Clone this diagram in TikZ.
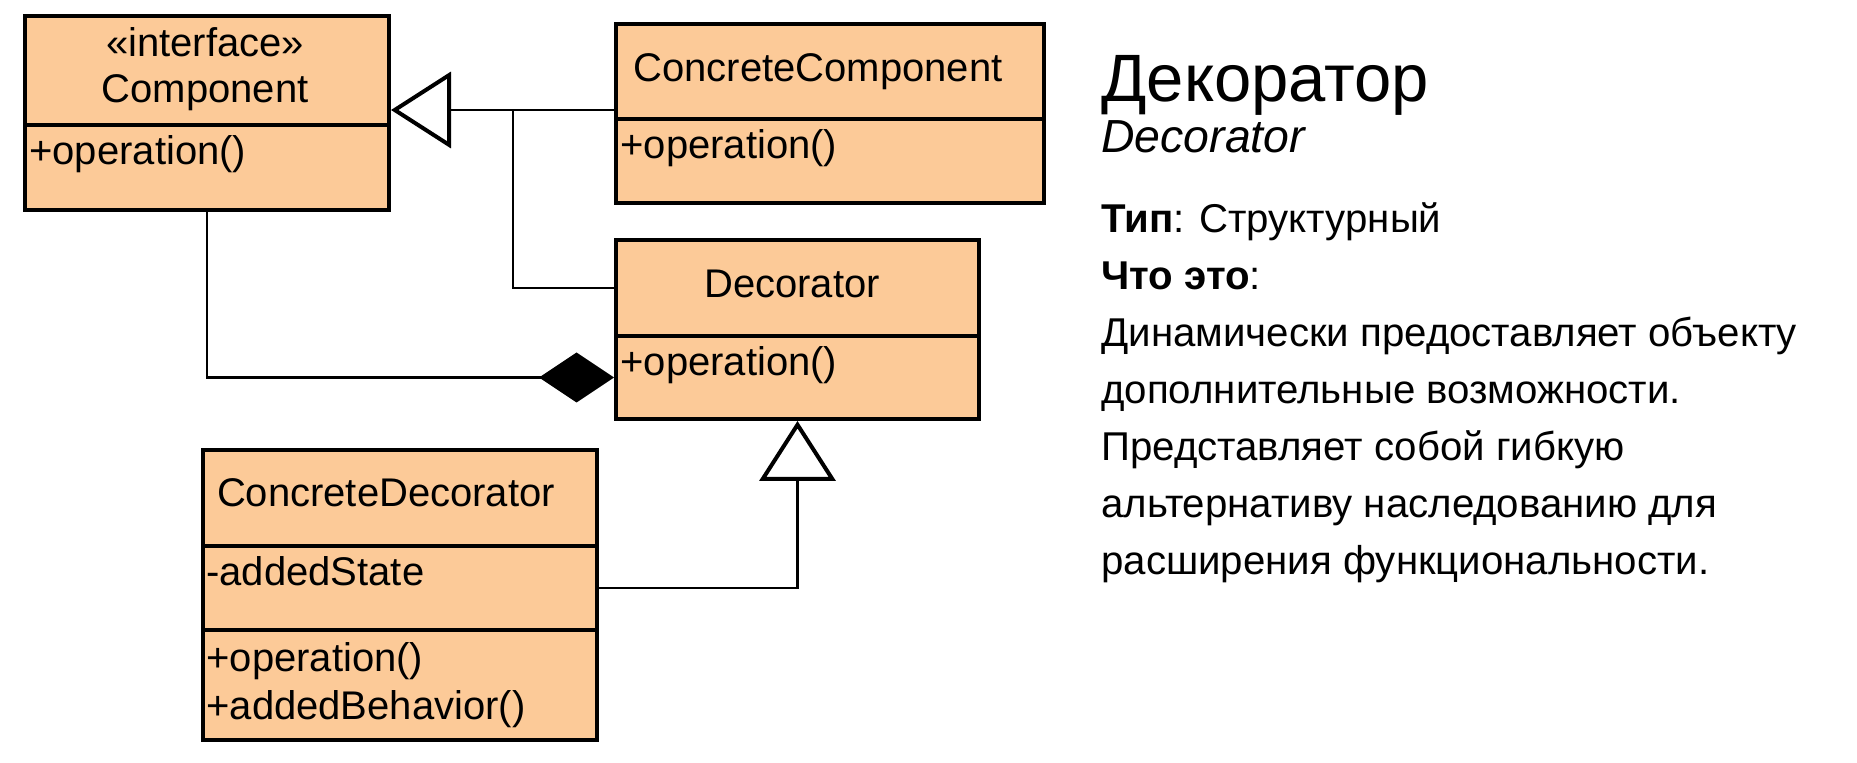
\documentclass[tikz,border=0pt]{standalone}
\usepackage{fontspec}
\setmainfont{Liberation Sans}
\usepackage{xcolor}
\usepackage{tikz}
\usetikzlibrary{arrows.meta}
\definecolor{classfill}{RGB}{252,202,152}

\begin{document}
\begin{tikzpicture}[x=0.5pt, y=-0.5pt,
  classbox/.style={draw, line width=2pt, fill=classfill, anchor=north west, inner sep=0pt},
  classtitle/.style={anchor=base, inner sep=0pt, font=\fontsize{20}{24}\selectfont},
  member/.style={anchor=base west, inner sep=0pt, font=\fontsize{20}{24}\selectfont},
  note/.style={anchor=base west, inner sep=0pt, font=\fontsize{20.1}{24}\selectfont},
  connector/.style={line width=1.25pt},
  inherit/.style={-{Triangle[open, length=30pt, width=38pt, line width=2pt]}},
  owns/.style={-{Diamond[length=37.5pt, width=25pt]}}]

\useasboundingbox (0,0) rectangle (1857,763);

\node[classbox, minimum width=182pt, minimum height=54.5pt] (comphead) at (23,14) {};
\node[classbox, minimum width=182pt, minimum height=42.5pt] (compbody) at (23,123) {};
\node[classbox, minimum width=214pt, minimum height=47.5pt] (cchead) at (614,22) {};
\node[classbox, minimum width=214pt, minimum height=42pt] (ccbody) at (614,117) {};
\node[classbox, minimum width=181.5pt, minimum height=48pt] (dechead) at (614,238) {};
\node[classbox, minimum width=181.5pt, minimum height=41.5pt] (decbody) at (614,334) {};
\node[classbox, minimum width=197pt, minimum height=48pt] (cdhead) at (201,448) {};
\node[classbox, minimum width=197pt, minimum height=42pt] (cdattr) at (201,544) {};
\node[classbox, minimum width=197pt, minimum height=55pt] (cdops) at (201,628) {};

\node[classtitle] (comptype) at (205,57) {«interface»};
\node[classtitle] (compname) at (205,103) {Component};
\node[member] (compop) at (29,165) {+operation()};
\node[classtitle] (ccname) at (818,82) {ConcreteComponent};
\node[member] (ccop) at (620,159) {+operation()};
\node[classtitle] (decname) at (792,298) {Decorator};
\node[member] (decop) at (620,376) {+operation()};
\node[classtitle] (cdname) at (386,507) {ConcreteDecorator};
\node[member] (cdstate) at (206,586) {-addedState};
\node[member] (cdop) at (206,672) {+operation()};
\node[member] (cdbehav) at (206,719) {+addedBehavior()};

\coordinate (joint) at (513,110);
\path[draw, connector, inherit] (cchead.west |- joint) -- (comphead.east |- joint);
\path[draw, connector] (joint) |- (dechead.west);
\path[draw, connector, owns] (compbody.south) |- (decbody.west);
\path[draw, connector, inherit] (cdattr.east) -| (decbody.south);

\node[anchor=base west, inner sep=0pt, font=\fontsize{33.5}{40}\selectfont] (heading) at (1101,102) {Декоратор};
\node[anchor=base west, inner sep=0pt, font=\itshape\fontsize{23.2}{28}\selectfont] (subheading) at (1101,153) {Decorator};
\node[note] (kind) at (1101,233) {\textbf{Тип}: Структурный};
\node[note] (what) at (1101,290) {\textbf{Что это}:};
\node[note] (line1) at (1101,347) {Динамически предоставляет объекту};
\node[note] (line2) at (1101,404) {дополнительные возможности.};
\node[note] (line3) at (1101,461) {Представляет собой гибкую};
\node[note] (line4) at (1101,518) {альтернативу наследованию для};
\node[note] (line5) at (1101,575) {расширения функциональности.};

\end{tikzpicture}
\end{document}
